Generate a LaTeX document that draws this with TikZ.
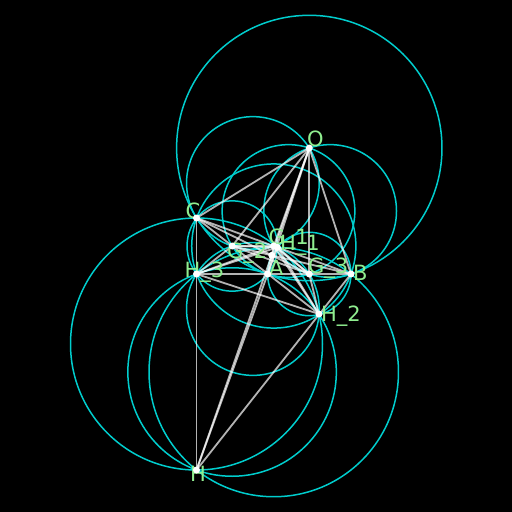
\documentclass[tikz,border=0pt]{standalone}
\usepackage{fontspec}
\setmainfont{DejaVu Sans}
\usetikzlibrary{calc,through}
\definecolor{ballcyan}{RGB}{0,205,205}
\definecolor{taggreen}{RGB}{144,238,144}
\tikzset{
    ball/.style={draw=ballcyan, line width=1.5pt},
    seg/.style={draw=white, line width=1.8pt, opacity=0.7},
    dot/.style={circle, fill=white, inner sep=0pt, minimum size=7pt},
    tag/.style={text=taggreen, inner sep=0pt, anchor=base west, font=\fontsize{21}{21}\selectfont}
}
\begin{document}
\begin{tikzpicture}[x=1pt, y=-1pt]
    \fill[black] (0, 0) rectangle (512, 512);
    \useasboundingbox (0, 0) rectangle (512, 512);

    \coordinate (A) at (267.7, 274);
    \coordinate (B) at (351, 274);
    \coordinate (C) at (196.5, 218);
    \coordinate (O) at (309.3, 148);
    \coordinate (H) at (196.5, 470);
    \coordinate (G) at (271.8, 255.3);
    \coordinate (G1) at (273.8, 246);
    \coordinate (G2) at (232.2, 246);
    \coordinate (G3) at (309.3, 274);
    \coordinate (H1) at (277.4, 247.3);
    \coordinate (H2) at (319, 314);
    \coordinate (H3) at (196.5, 274);

    \node[ball, circle through={(A)}] (circum) at (O) {};
    \node[ball, circle through={(O)}] (circCO) at ($(C)!0.5!(O)$) {};
    \node[ball, circle through={(O)}] (circOB) at ($(O)!0.5!(B)$) {};
    \node[ball, circle through={(O)}] (circOA) at ($(O)!0.5!(A)$) {};
    \node[ball, circle through={(B)}] (circBC) at (G1) {};
    \node[ball, circle through={(A)}] (circCA) at (G2) {};
    \node[ball, circle through={(B)}] (circAB) at (G3) {};
    \node[ball, circle through={(A)}] (circHA) at ($(H)!0.5!(A)$) {};
    \node[ball, circle through={(B)}] (circHB) at ($(H)!0.5!(B)$) {};
    \node[ball, circle through={(C)}] (circHC) at ($(H)!0.5!(C)$) {};
    \node[ball, circle through={(G1)}] (ninept) at ($(H)!0.5!(O)$) {};

    \draw[seg] (H3) to (B);
    \draw[seg] (C) to (B);
    \draw[seg] (C) to (H2);
    \draw[seg] (C) to (H);
    \draw[seg] (H) to (A);
    \draw[seg] (H) to (B);
    \draw[seg] (H) to (O);
    \draw[seg] (A) to (H1);
    \draw[seg] (A) to (G1);
    \draw[seg] (B) to (G2);
    \draw[seg] (C) to (G3);
    \draw[seg] (O) to (A);
    \draw[seg] (O) to (B);
    \draw[seg] (O) to (C);
    \draw[seg] (O) to (G1);
    \draw[seg] (O) to (G2);
    \draw[seg] (O) to (G3);
    \draw[seg] (G1) to (G2);
    \draw[seg] (G2) to (G3);
    \draw[seg] (G3) to (G1);
    \draw[seg] (H1) to (H2);
    \draw[seg] (H2) to (H3);
    \draw[seg] (H3) to (H1);
    \draw[seg] (H1) to (G2);
    \draw[seg] (H1) to (G3);
    \draw[seg] (H2) to (G1);
    \draw[seg] (H2) to (G3);
    \draw[seg] (H3) to (G1);
    \draw[seg] (H3) to (G2);

    \node[tag] (labA) at (269, 275) {A};
    \node[tag] (labB) at (353, 280) {B};
    \node[tag] (labC) at (185.5, 218) {C};
    \node[tag] (labO) at (307, 146) {O};
    \node[tag] (labH) at (190, 481) {H};
    \node[tag] (labG1) at (268.5, 244) {G\_1};
    \node[tag] (labG2) at (227, 258) {G\_2};
    \node[tag] (labG3) at (308, 273) {G\_3};
    \node[tag] (labH1) at (280, 250) {H\_1};
    \node[tag] (labH2) at (321, 321) {H\_2};
    \node[tag] (labH3) at (184.5, 277) {H\_3};

    \node[dot] (dotA) at (A) {};
    \node[dot] (dotB) at (B) {};
    \node[dot] (dotC) at (C) {};
    \node[dot] (dotO) at (O) {};
    \node[dot] (dotH) at (H) {};
    \node[dot] (dotG) at (G) {};
    \node[dot] (dotG1) at (G1) {};
    \node[dot] (dotG2) at (G2) {};
    \node[dot] (dotG3) at (G3) {};
    \node[dot] (dotH1) at (H1) {};
    \node[dot] (dotH2) at (H2) {};
    \node[dot] (dotH3) at (H3) {};
\end{tikzpicture}
\end{document}
